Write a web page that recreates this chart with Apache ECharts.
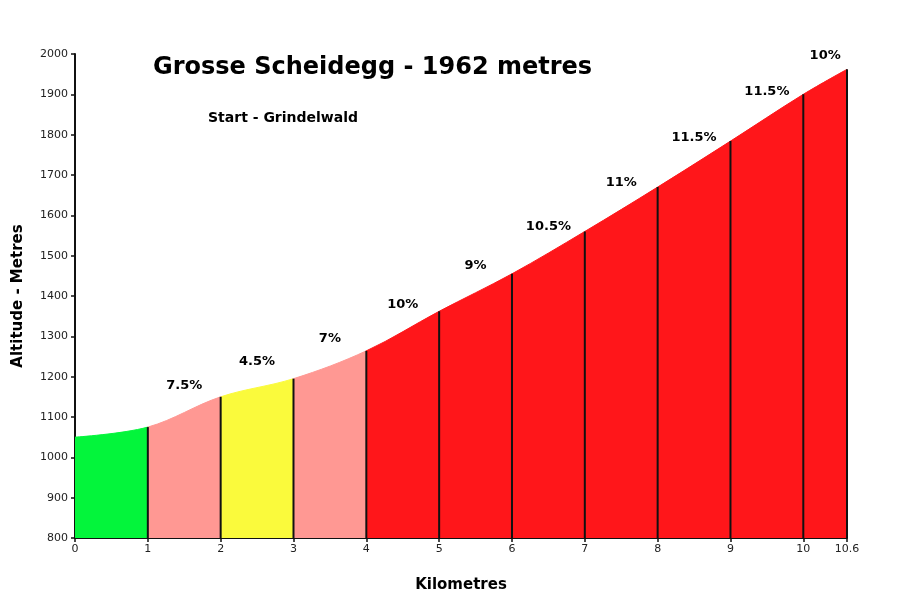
<!DOCTYPE html>
<html>
<head>
<meta charset="utf-8">
<script src="https://cdn.jsdelivr.net/npm/echarts@6/dist/echarts.min.js"></script>
<style>
  html, body { margin: 0; padding: 0; background: #fff; }
  #chart { width: 900px; height: 610px; }
</style>
</head>
<body>
<div id="chart"></div>
<script>
// profil : distance (km) et altitude (m)
const km = [0, 1, 2, 3, 4, 5, 6, 7, 8, 9, 10, 10.6]
const altitude = [1050, 1075, 1150, 1195, 1264, 1362, 1455, 1560, 1670, 1784, 1900, 1962]
// pente de chaque tronçon (le premier n'a pas d'étiquette)
const gradeLabels = ['', '7.5%', '4.5%', '7%', '10%', '9%', '10.5%', '11%', '11.5%', '11.5%', '10%']
const sectionColors = ['#03f53b', '#ff9893', '#fafa3c', '#ff9893', '#ff161a', '#ff161a',
  '#ff161a', '#ff161a', '#ff161a', '#ff161a', '#ff161a']
const xTicks = [0, 1, 2, 3, 4, 5, 6, 7, 8, 9, 10, 10.6]

const FONT = 'DejaVu Sans'
const AXIS_MIN = 800

const profile = km.map((k, i) => [k, altitude[i]])
const pieces = sectionColors.map((c, i) => ({ gte: km[i], lt: km[i + 1], color: c }))
pieces[pieces.length - 1].lte = km[km.length - 1]
delete pieces[pieces.length - 1].lt

const gradePoints = gradeLabels.map((t, i) => ({
  value: [(km[i] + km[i + 1]) / 2, (altitude[i] + altitude[i + 1]) / 2],
  label: { formatter: t }
}))
const dividers = km.slice(1).map((k, i) => [k, altitude[i + 1]])

const chart = echarts.init(document.getElementById('chart'))
chart.setOption({
  animation: false,
  textStyle: { fontFamily: FONT },
  grid: { left: 75, right: 53, top: 54, bottom: 72, outerBoundsMode: 'none' },
  graphic: [
    {
      type: 'text', left: 153, top: 56,
      style: { text: 'Grosse Scheidegg - 1962 metres', font: 'bold 24px ' + FONT, fill: '#000' }
    },
    {
      type: 'text', left: 208, top: 111,
      style: { text: 'Start - Grindelwald', font: 'bold 14px ' + FONT, fill: '#000' }
    }
  ],
  visualMap: {
    type: 'piecewise', show: false, dimension: 0, seriesIndex: 0,
    pieces: pieces
  },
  xAxis: {
    type: 'value', min: 0, max: 10.6,
    name: 'Kilometres', nameLocation: 'middle', nameGap: 40,
    nameTextStyle: { fontSize: 15, fontWeight: 'bold', color: '#000', fontFamily: FONT },
    axisLine: { lineStyle: { color: '#111', width: 2 } },
    axisTick: { customValues: xTicks, length: 4, lineStyle: { color: '#111', width: 1.5 } },
    axisLabel: { customValues: xTicks, fontSize: 11, color: '#222', margin: 6, fontFamily: FONT },
    splitLine: { show: false }
  },
  yAxis: {
    type: 'value', min: AXIS_MIN, max: 2000, interval: 100,
    name: 'Altitude - Metres', nameLocation: 'middle', nameGap: 49,
    nameTextStyle: { fontSize: 15, fontWeight: 'bold', color: '#000', fontFamily: FONT },
    axisLine: { show: true, lineStyle: { color: '#111', width: 2 } },
    axisTick: { show: true, length: 4, lineStyle: { color: '#111', width: 1.5 } },
    axisLabel: { fontSize: 11, color: '#222', margin: 7, fontFamily: FONT, formatter: v => String(v) },
    splitLine: { show: false }
  },
  series: [
    {
      type: 'line', data: profile, smooth: 0.35, symbol: 'none',
      lineStyle: { width: 1 },
      areaStyle: { opacity: 1, origin: 'start' },
      z: 1
    },
    {
      type: 'custom', data: dividers, z: 3,
      renderItem: (params, api) => {
        const top = api.coord([api.value(0), api.value(1)])
        const bottom = api.coord([api.value(0), AXIS_MIN])
        return {
          type: 'line',
          shape: { x1: top[0], y1: top[1], x2: bottom[0], y2: bottom[1] },
          style: { stroke: '#111', lineWidth: 2 }
        }
      }
    },
    {
      type: 'scatter', data: gradePoints, symbolSize: 0, z: 4,
      itemStyle: { opacity: 1 },
      label: {
        show: true, position: 'top', distance: 20,
        fontSize: 13, fontWeight: 'bold', color: '#000', fontFamily: FONT
      }
    }
  ]
})
</script>
</body>
</html>
